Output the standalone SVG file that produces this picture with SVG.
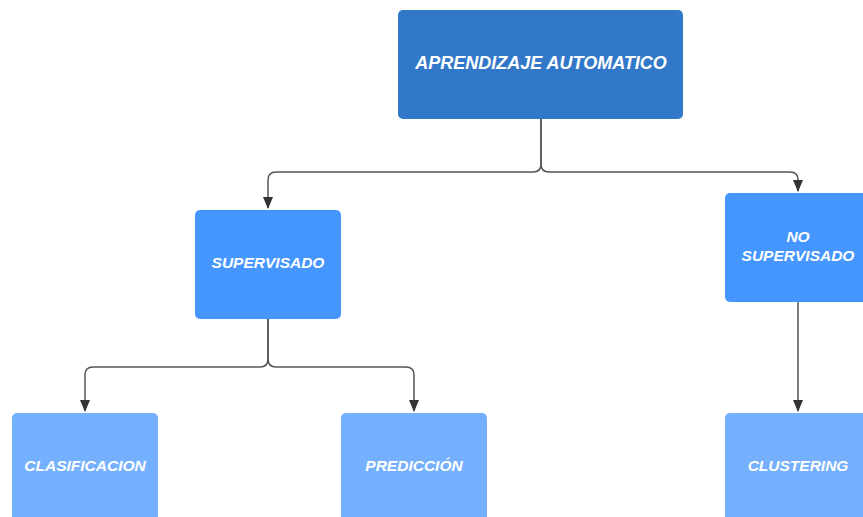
<svg xmlns="http://www.w3.org/2000/svg" width="863" height="517" viewBox="0 0 863 517">
<defs>
<marker id="arr" viewBox="0 0 12 10" refX="11" refY="5" markerWidth="12" markerHeight="10" markerUnits="userSpaceOnUse" orient="auto">
<path d="M0,0 L12,5 L0,10 z" fill="#333"/>
</marker>
<style>
.t{font-family:"Liberation Sans",Arial,sans-serif;font-weight:bold;font-style:italic;fill:#fff;text-anchor:middle;dominant-baseline:central}
.c{fill:none;stroke:#555;stroke-width:1.5}
</style>
</defs>
<rect width="863" height="517" fill="#fff"/>
<g id="connectors">
<path class="c" d="M541,119 V164 Q541,172 533,172 H276 Q268,172 268,180 V208" marker-end="url(#arr)"/>
<path class="c" d="M541,119 V164 Q541,172 549,172 H790 Q798,172 798,180 V191" marker-end="url(#arr)"/>
<path class="c" d="M268,319 V359 Q268,367 260,367 H93 Q85,367 85,375 V411" marker-end="url(#arr)"/>
<path class="c" d="M268,319 V359 Q268,367 276,367 H406 Q414,367 414,375 V411" marker-end="url(#arr)"/>
<path class="c" d="M798,302 V411" marker-end="url(#arr)"/>
</g>
<g id="aprendizaje">
<rect x="398" y="10" width="285" height="109" rx="5" fill="#3178C8"/>
<text class="t" x="541" y="63" font-size="18">APRENDIZAJE AUTOMATICO</text>
</g>
<g id="supervisado">
<rect x="195" y="210" width="146" height="109" rx="5" fill="#4596FF"/>
<text class="t" x="268" y="262" font-size="15.5">SUPERVISADO</text>
</g>
<g id="nosupervisado">
<rect x="725" y="193" width="146" height="109" rx="5" fill="#4596FF"/>
<text class="t" x="798" y="236" font-size="15.5">NO</text>
<text class="t" x="798" y="255" font-size="15.5">SUPERVISADO</text>
</g>
<g id="clasificacion">
<rect x="12" y="413" width="146" height="109" rx="5" fill="#75B0FF"/>
<text class="t" x="85" y="465" font-size="15.5">CLASIFICACION</text>
</g>
<g id="prediccion">
<rect x="341" y="413" width="146" height="109" rx="5" fill="#75B0FF"/>
<text class="t" x="414" y="465" font-size="15.5">PREDICCIÓN</text>
</g>
<g id="clustering">
<rect x="725" y="413" width="146" height="109" rx="5" fill="#75B0FF"/>
<text class="t" x="798" y="465" font-size="15.5">CLUSTERING</text>
</g>
</svg>
